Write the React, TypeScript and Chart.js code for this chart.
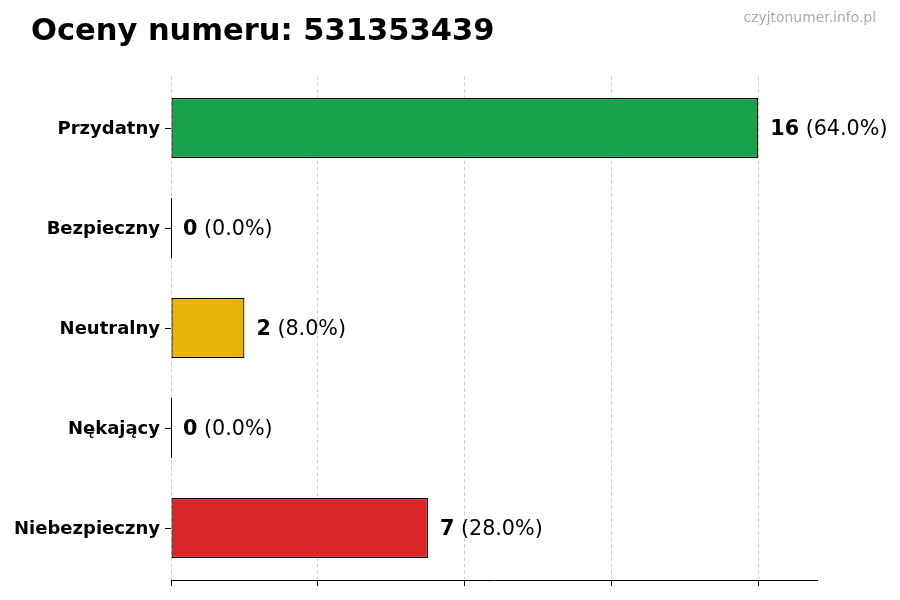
import { useEffect, useRef } from 'react';
import { Chart, registerables } from 'chart.js';

Chart.register(...registerables);

const TITLE = 'Oceny numeru: 531353439';
const WATERMARK = 'czyjtonumer.info.pl';

const CATEGORIES = ['Przydatny', 'Bezpieczny', 'Neutralny', 'Nękający', 'Niebezpieczny'];
const COUNTS = [16, 0, 2, 0, 7];
const COLORS = ['#17a34a', '#2563eb', '#eab308', '#f97316', '#dc2626'];
const X_TICKS = [0, 4, 8, 12, 16];

const FONT = '"DejaVu Sans", Verdana, sans-serif';

const total = COUNTS.reduce((a, b) => a + b, 0);

const decorPlugin = {
  id: 'decor',
  afterDraw(chart: Chart) {
    const { ctx } = chart;
    ctx.save();
    // title
    ctx.fillStyle = '#000';
    ctx.textBaseline = 'alphabetic';
    ctx.textAlign = 'left';
    ctx.font = `bold 30.5px ${FONT}`;
    ctx.fillText(TITLE, 31, 40);
    // watermark
    ctx.fillStyle = '#aaaaaa';
    ctx.textAlign = 'right';
    ctx.font = `13.9px ${FONT}`;
    ctx.fillText(WATERMARK, 876, 22);

    // value labels and zero-width bar edges
    const meta = chart.getDatasetMeta(0);
    ctx.textBaseline = 'middle';
    ctx.textAlign = 'left';
    meta.data.forEach((bar: any, i: number) => {
      const v = COUNTS[i];
      const { x, y, height } = bar.getProps(['x', 'y', 'height'], true);
      if (v === 0) {
        ctx.strokeStyle = '#000';
        ctx.lineWidth = 1;
        ctx.beginPath();
        ctx.moveTo(Math.round(x) + 0.5, y - height / 2);
        ctx.lineTo(Math.round(x) + 0.5, y + height / 2);
        ctx.stroke();
      }
      const pct = total ? ((v / total) * 100).toFixed(1) : '0.0';
      const bold = String(v);
      const rest = ` (${pct}%)`;
      const ty = y + 1.5;
      let tx = x + 12;
      ctx.fillStyle = '#000';
      ctx.font = `bold 20.7px ${FONT}`;
      ctx.fillText(bold, tx, ty);
      tx += ctx.measureText(bold).width;
      ctx.font = `20.7px ${FONT}`;
      ctx.fillText(rest, tx, ty);
    });
    ctx.restore();
  }
};

export default function App() {
  const canvasRef = useRef<HTMLCanvasElement | null>(null);

  useEffect(() => {
    let chart: Chart | null = null;
    if (canvasRef.current) {
      chart = new Chart(canvasRef.current, {
        type: 'bar',
        data: {
          datasets: [
            {
              data: COUNTS.map((v, i) => ({ x: v, y: i })),
              backgroundColor: COLORS,
              borderColor: '#000',
              borderWidth: 1.2,
              borderSkipped: false,
              barPercentage: 0.6,
              categoryPercentage: 1
            }
          ]
        },
        options: {
          indexAxis: 'y',
          animation: false,
          responsive: false,
          devicePixelRatio: 1,
          layout: {
            padding: { top: 76, right: 83, bottom: 0, left: 0 }
          },
          plugins: {
            legend: { display: false },
            tooltip: { enabled: false }
          },
          scales: {
            x: {
              type: 'linear',
              min: 0,
              max: 17.6,
              z: 1,
              afterBuildTicks: (scale: any) => {
                scale.ticks = X_TICKS.map((value) => ({ value }));
              },
              afterFit: (scale: any) => {
                scale.height = 20;
              },
              ticks: { display: false },
              grid: {
                color: 'rgba(190,190,190,0.7)',
                lineWidth: 1,
                tickBorderDash: [],
                tickColor: '#000',
                tickLength: 6,
                tickWidth: 1
              } as any,
              border: { display: true, color: '#000', width: 1, dash: [4, 2.5] }
            },
            y: {
              type: 'linear',
              reverse: true,
              min: -0.52,
              max: 4.52,
              offset: false,
              afterBuildTicks: (scale: any) => {
                scale.ticks = CATEGORIES.map((_, i) => ({ value: i }));
              },
              afterFit: (scale: any) => {
                scale.width = 171;
              },
              ticks: {
                color: '#000',
                padding: 5,
                labelOffset: 1.5,
                font: { family: FONT, size: 18, weight: 'bold' },
                callback: (v: any) => CATEGORIES[v] ?? ''
              },
              grid: {
                drawOnChartArea: false,
                offset: false,
                tickColor: '#000',
                tickLength: 6,
                tickWidth: 1
              },
              border: { display: false }
            }
          }
        },
        plugins: [decorPlugin]
      });
    }
    return () => {
      if (chart) chart.destroy();
    };
  }, []);

  return (
    <div style={{ position: 'fixed', left: 0, top: 0, width: 900, height: 600, background: '#fff' }}>
      <canvas ref={canvasRef} width={900} height={600} />
    </div>
  );
}
